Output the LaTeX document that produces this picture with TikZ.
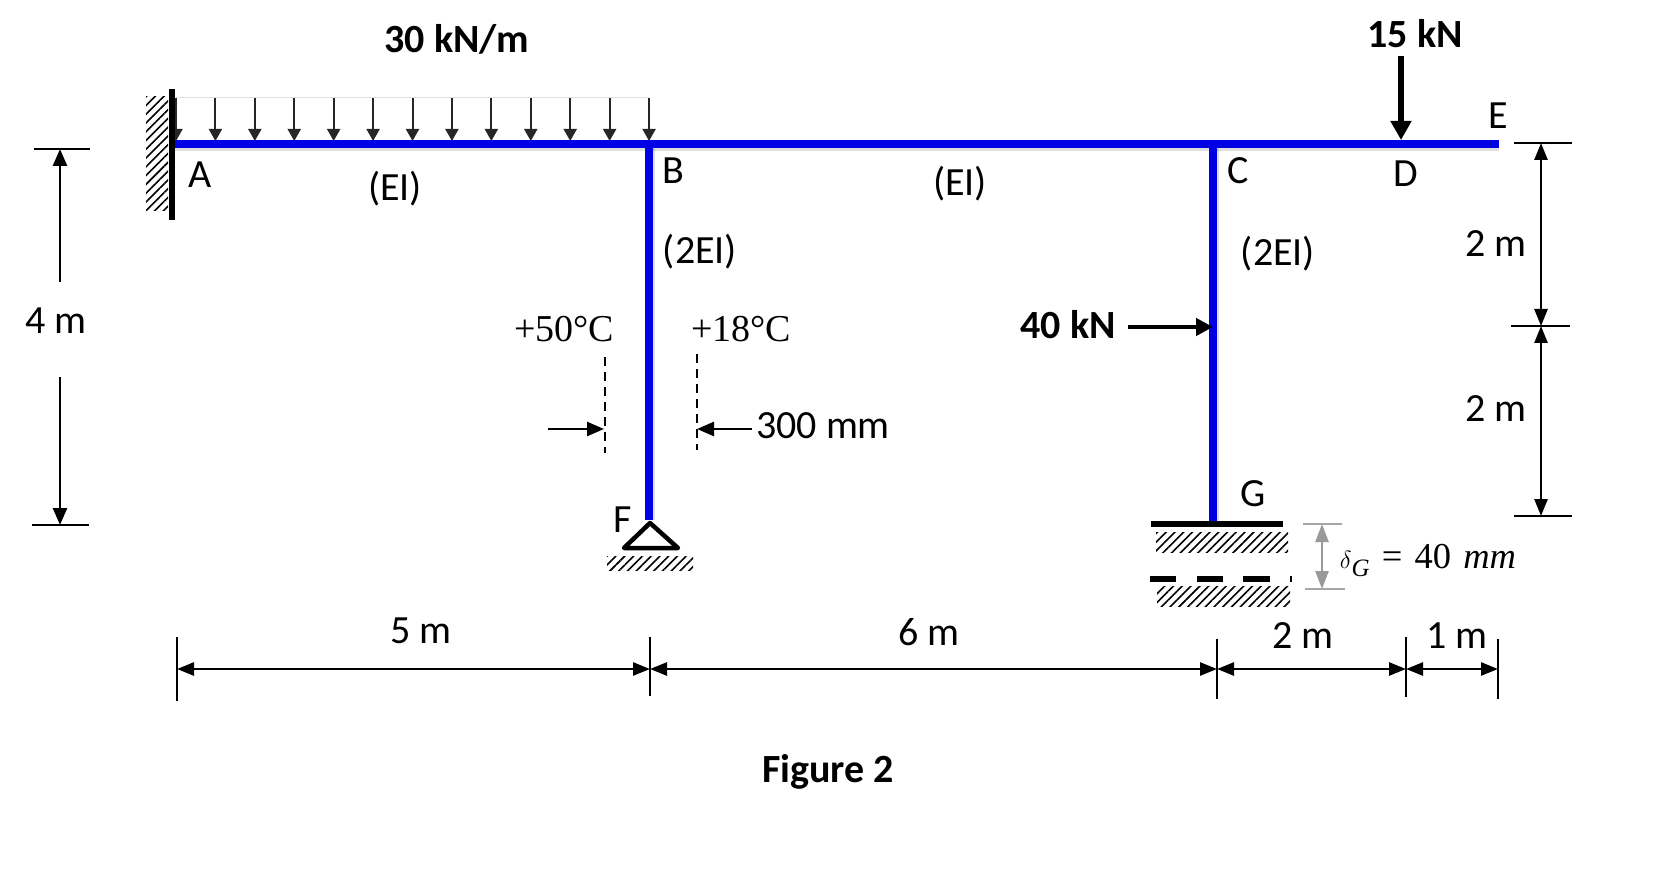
\documentclass[tikz,border=0pt]{standalone}
\usepackage{fontspec}
\setmainfont{Carlito}
\newfontfamily\serifcam{Liberation Serif}
\usetikzlibrary{arrows.meta,patterns.meta}
\tikzset{
  x=1pt,y=-1pt,
  lab/.style={font=\fontsize{40}{44}\selectfont,inner sep=0pt,text=black},
  boldlab/.style={font=\fontsize{40}{44}\selectfont\bfseries,inner sep=0pt,text=black},
  temp/.style={font=\fontsize{38}{42}\selectfont\serifcam,inner sep=0pt,text=black},
  beam/.style={draw=blue!90!black,line width=7.5pt},
  beamshadow/.style={draw=black,opacity=.13,line width=7.5pt},
  barthick/.style={draw=black,line width=6.5pt},
  dim/.style={draw=black,line width=2.6pt,{Triangle[length=17pt,width=13pt]}-{Triangle[length=17pt,width=13pt]}},
  dimone/.style={draw=black,line width=2.6pt,-{Triangle[length=17pt,width=14pt]}},
  tick/.style={draw=black,line width=2.4pt},
  udl/.style={draw=black!85,line width=2pt,-{Triangle[length=12pt,width=13pt]}},
  force/.style={draw=black,line width=6pt,-{Triangle[length=19pt,width=20pt]}},
  dashline/.style={draw=black,line width=2.4pt,dash pattern=on 9pt off 6pt},
  graytick/.style={draw=black!35,line width=2pt},
  grayarrow/.style={draw=black!40,line width=2.5pt,{Triangle[length=18pt,width=13pt]}-{Triangle[length=18pt,width=13pt]}},
  hatch/.style={pattern={Lines[angle=45,distance=6.2pt,line width=1.6pt]},pattern color=black},
}
\begin{document}
\begin{tikzpicture}
\useasboundingbox (0,0) rectangle (1668,874);
\begin{scope}[yshift=-1pt]
% ---- named points
\coordinate (A) at (172,143);
\coordinate (B) at (649,143);
\coordinate (C) at (1213,143);
\coordinate (D) at (1401,143);
\coordinate (E) at (1499,143);
\coordinate (F) at (649,519);
\coordinate (G) at (1213,522);
% ---- hatching
\path[hatch] (146,96) rectangle (168,210);
\path[hatch] (607,555) rectangle (693,569);
\path[hatch] (1156,531) rectangle (1288,551);
\path[hatch] (1157,585) rectangle (1290,605);
% ---- distributed load
\coordinate (qL) at (176,97);
\coordinate (qR) at (649,97);
\draw[black!12,line width=1pt] (qL) -- (qR);
\foreach \i in {0,...,12}{
  \coordinate (qt\i) at (176+39.42*\i,97);
  \coordinate (qb\i) at (176+39.42*\i,140);
  \draw[udl] (qt\i) -- (qb\i);
}
% ---- frame
\draw[beamshadow] ([shift={(0,3)}]A) -- ([shift={(0,3)}]E);
\draw[beamshadow] ([shift={(2,0)}]B) -- ([shift={(2,0)}]F);
\draw[beamshadow] ([shift={(2,0)}]C) -- ([shift={(2,0)}]G);
\draw[beam] (A) -- (E);
\draw[beam] (B) -- (F);
\draw[beam] (C) -- (G);
% ---- fixed support A
\coordinate (w1) at (172,88);
\coordinate (w2) at (172,219);
\draw[black,line width=6.5pt] (w1) -- (w2);
% ---- pin F
\coordinate (p1) at (650,522);
\coordinate (p2) at (624,547);
\coordinate (p3) at (678,547);
\draw[black,line width=4.5pt,line join=round] (p1) -- (p2) -- (p3) -- cycle;
% ---- support G
\coordinate (g1) at (1151,523);
\coordinate (g2) at (1283,523);
\draw[barthick] (g1) -- (g2);
\coordinate (g3) at (1150,578);
\coordinate (g4) at (1176,578);
\coordinate (g5) at (1197,578);
\coordinate (g6) at (1223,578);
\coordinate (g7) at (1243,578);
\coordinate (g8) at (1270,578);
\draw[barthick] (g3) -- (g4);
\draw[barthick] (g5) -- (g6);
\draw[barthick] (g7) -- (g8);
\coordinate (g9) at (1291,575);
\coordinate (g10) at (1291,581);
\draw[black,line width=1.5pt] (g9) -- (g10);
% ---- settlement
\coordinate (s1) at (1303,523);
\coordinate (s2) at (1342,523);
\coordinate (s3) at (1305,588);
\coordinate (s4) at (1345,588);
\coordinate (s5) at (1322,523);
\coordinate (s6) at (1322,588);
\draw[graytick] (s1) -- (s2);
\draw[graytick] (s3) -- (s4);
\draw[grayarrow] (s5) -- (s6);
\node[temp,font=\fontsize{36.5}{40}\selectfont\serifcam] (delta) at (1428,559) {$\mathit{\delta}$\raisebox{-8pt}{\fontsize{25}{27}\selectfont\itshape G}\,\,=\,\,40\,\,\itshape mm};
% ---- forces
\coordinate (f15a) at (1401,55);
\coordinate (f15b) at (1401,139);
\draw[force] (f15a) -- (f15b);
\coordinate (f40a) at (1128,326);
\coordinate (f40b) at (1213,326);
\draw[draw=black,line width=4.5pt,-{Triangle[length=17pt,width=17pt]}] (f40a) -- (f40b);
% ---- temperature markers
\coordinate (d1a) at (605,356);
\coordinate (d1b) at (605,452);
\coordinate (d2a) at (697,353);
\coordinate (d2b) at (697,449);
\draw[dashline] (d1a) -- (d1b);
\draw[dashline] (d2a) -- (d2b);
\coordinate (t1a) at (548,428);
\coordinate (t1b) at (604,428);
\coordinate (t2a) at (752,428);
\coordinate (t2b) at (697,428);
\draw[dimone] (t1a) -- (t1b);
\draw[dimone] (t2a) -- (t2b);
% ---- bottom dimensions
\coordinate (b0) at (177,668);
\coordinate (b1) at (650,668);
\coordinate (b2) at (1217,668);
\coordinate (b3) at (1406,668);
\coordinate (b4) at (1498,668);
\draw[dim] (b0) -- (b1);
\draw[dim] (b1) -- (b2);
\draw[dim] (b2) -- (b3);
\draw[dim] (b3) -- (b4);
\foreach \n/\xx/\a/\b in {b0/177/636/700,b1/650/636/695,b2/1217/638/698,b3/1406/636/696,b4/1498/638/698}{
  \coordinate (\n u) at (\xx,\a);
  \coordinate (\n d) at (\xx,\b);
  \draw[tick] (\n u) -- (\n d);
}
% ---- right dimension
\coordinate (r1) at (1541,142);
\coordinate (r2) at (1541,325);
\coordinate (r3) at (1541,515);
\coordinate (r1a) at (1514,142);
\coordinate (r1b) at (1572,142);
\coordinate (r2a) at (1511,325);
\coordinate (r2b) at (1570,325);
\coordinate (r3a) at (1514,515);
\coordinate (r3b) at (1572,515);
\draw[dim] (r1) -- (r2);
\draw[dim] (r2) -- (r3);
\draw[tick] (r1a) -- (r1b);
\draw[tick] (r2a) -- (r2b);
\draw[tick] (r3a) -- (r3b);
% ---- labels
\node[lab] (la) at (200,174) {A};
\node[lab] (lb) at (673,170) {B};
\node[lab] (lc) at (1238,170) {C};
\node[lab] (ld) at (1406,173) {D};
\node[lab] (le) at (1498,115) {E};
\node[lab] (lf) at (623,519) {F};
\node[lab] (lg) at (1253,493) {G};
\node[lab] (ei1) at (395,188) {(EI)};
\node[lab] (ei2) at (960,183) {(EI)};
\node[lab] (ei3) at (700,251) {(2EI)};
\node[lab] (ei4) at (1278,253) {(2EI)};
\node[temp] (t50) at (564,328) {+50°C};
\node[temp] (t18) at (741,328) {+18°C};
\node[lab] (mm) at (823,425) {300 mm};
\node[lab] (m2a) at (1496,243) {2 m};
\node[lab] (m2b) at (1496,408) {2 m};
\node[lab] (m5) at (421,630) {5 m};
\node[lab] (m6) at (929,631) {6 m};
\node[lab] (m2c) at (1303,635) {2 m};
\node[lab] (m1) at (1457,635) {1 m};
\node[boldlab] (fig) at (828,771) {Figure 2};
\end{scope}
% ---- left dimension
\coordinate (l1) at (60,149);
\coordinate (l2) at (60,282);
\coordinate (l3) at (60,377);
\coordinate (l4) at (60,525);
\coordinate (l1a) at (34,149);
\coordinate (l1b) at (90,149);
\coordinate (l4a) at (32,525);
\coordinate (l4b) at (89,525);
\draw[dimone] (l2) -- (l1);
\draw[dimone] (l3) -- (l4);
\draw[tick] (l1a) -- (l1b);
\draw[tick] (l4a) -- (l4b);
\node[lab] (m4) at (56,321) {4 m};
\node[boldlab] (q) at (457,39) {30 kN/m};
\node[boldlab] (p15) at (1415,34) {15 kN};
\node[boldlab] (p40) at (1068,325) {40 kN};
\end{tikzpicture}
\end{document}
